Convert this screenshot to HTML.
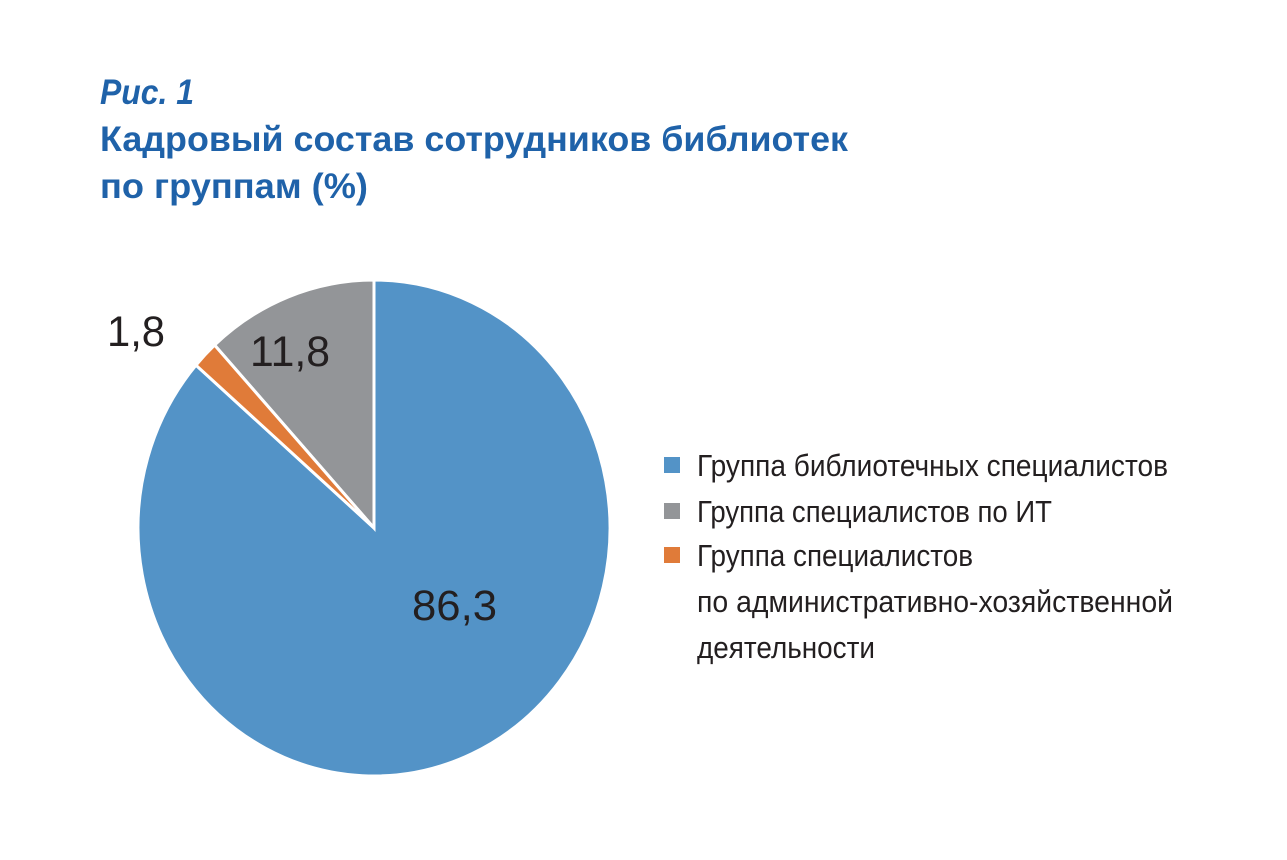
<!DOCTYPE html>
<html><head><meta charset="utf-8"><style>
html,body{margin:0;padding:0;background:#fff;}
svg{display:block;}
text{font-family:"Liberation Sans Narrow","Liberation Sans","DejaVu Sans",sans-serif;}
</style></head><body>
<svg width="1287" height="860" viewBox="0 0 1287 860" xmlns="http://www.w3.org/2000/svg">
<rect width="1287" height="860" fill="#fff"/>
<g fill="#1f62a9" font-weight="bold">
<text x="100" y="104" font-size="35" font-style="italic" textLength="94" lengthAdjust="spacingAndGlyphs">Рис. 1</text>
<text x="100" y="151" font-size="35" textLength="748" lengthAdjust="spacingAndGlyphs">Кадровый состав сотрудников библиотек</text>
<text x="100" y="198" font-size="35" textLength="268" lengthAdjust="spacingAndGlyphs">по группам (%)</text>
</g>
<g stroke="#fff" stroke-width="3" stroke-linejoin="miter">
<path d="M374,528 L374,280 A236,248 0 1 1 196,365.2 Z" fill="#5393c7"/>
<path d="M374,528 L214.6,345.1 A236,248 0 0 1 374,280 Z" fill="#939598"/>
<path d="M374,528 L196,365.2 A236,248 0 0 1 214.6,345.1 Z" fill="#e07b39"/>
</g>
<g fill="#231f20" font-size="43">
<text x="412" y="620" textLength="85" lengthAdjust="spacingAndGlyphs">86,3</text>
<text x="250" y="366" textLength="80" lengthAdjust="spacingAndGlyphs">11,8</text>
<text x="107" y="346" textLength="58" lengthAdjust="spacingAndGlyphs">1,8</text>
</g>
<rect x="664" y="457" width="16" height="16" fill="#5393c7"/>
<rect x="664" y="503" width="16" height="16" fill="#939598"/>
<rect x="664" y="547" width="16" height="16" fill="#e07b39"/>
<g fill="#231f20" font-size="31">
<text x="697" y="476" textLength="471" lengthAdjust="spacingAndGlyphs">Группа библиотечных специалистов</text>
<text x="697" y="522" textLength="355" lengthAdjust="spacingAndGlyphs">Группа специалистов по ИТ</text>
<text x="697" y="566" textLength="276" lengthAdjust="spacingAndGlyphs">Группа специалистов</text>
<text x="697" y="612" textLength="476" lengthAdjust="spacingAndGlyphs">по административно-хозяйственной</text>
<text x="697" y="658" textLength="178" lengthAdjust="spacingAndGlyphs">деятельности</text>
</g>
</svg>
</body></html>
